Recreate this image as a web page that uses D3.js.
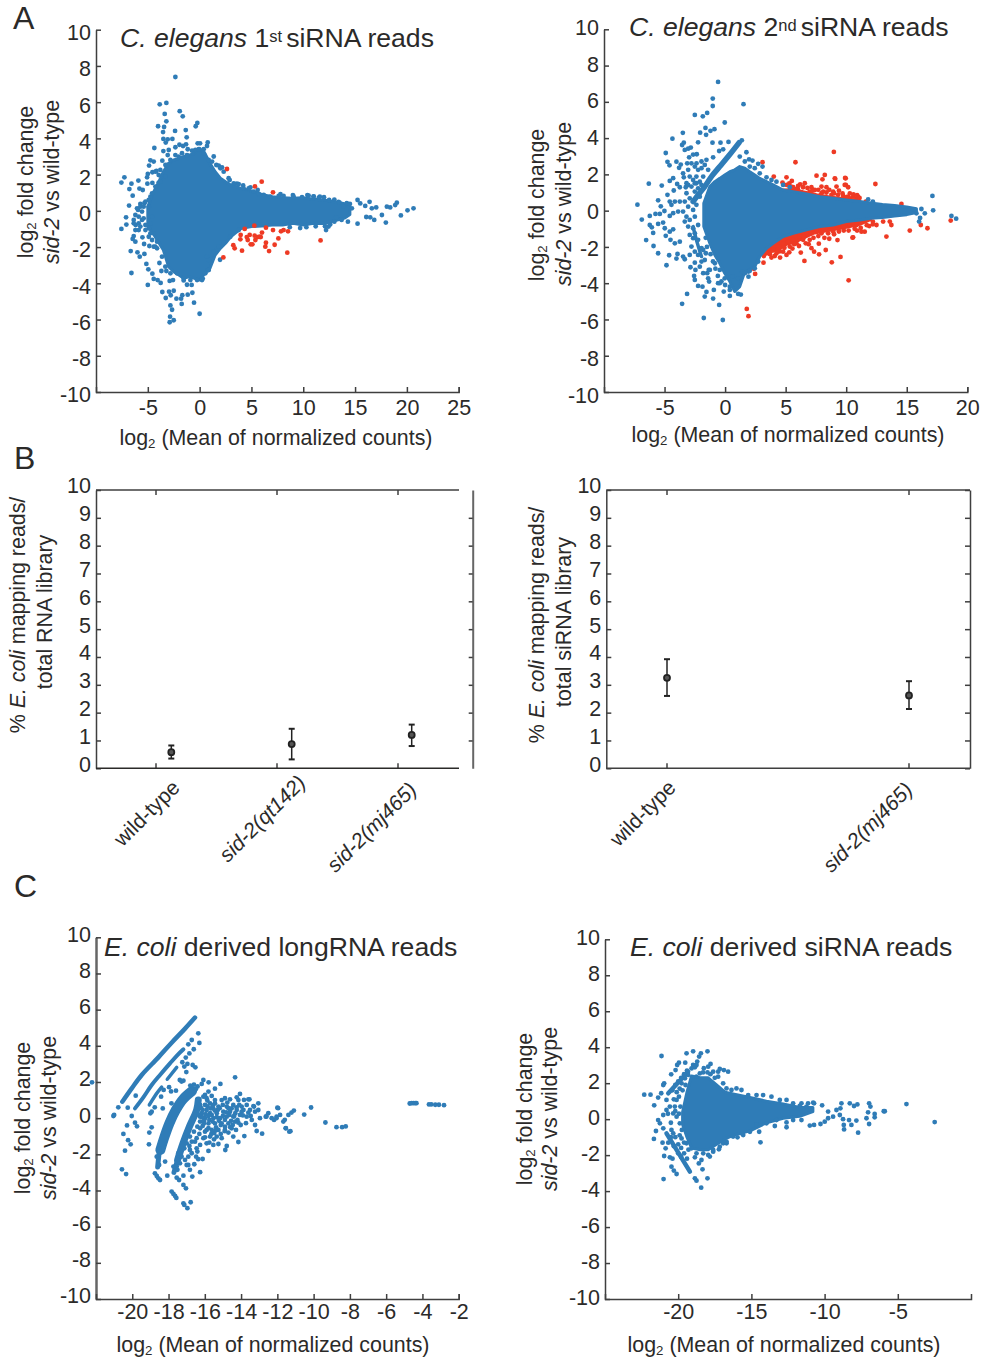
<!DOCTYPE html>
<html>
<meta charset="utf-8">
<style>
body{margin:0;background:#fff;}
svg{display:block;}
text{font-family:"Liberation Sans",Arial,sans-serif;fill:#2b2a29;}
.tick text{font-size:21.5px;}
.domain,.tick line{stroke:#3f3f3f;stroke-width:1.5px;}
</style>
<body>
<svg width="994" height="1360"></svg>
<script src="https://d3js.org/d3.v7.min.js"></script>
<script>

var BLUE = "#2f7cb7", RED = "#ee3a24";

var foldTicks = [-10,-8,-6,-4,-2,0,2,4,6,8,10];
var pctTicks = [0,1,2,3,4,5,6,7,8,9,10];

// the dense middle of each MA plot is solid colour, so only its outline can be read
var a1CoreX = [-5,-4.5,-4,-3.5,-3,-2.5,-2,-1.5,-1,-.5,0,.5,1,1.5,2,2.5,3,4,5,6,7,8,9,10,11,12,13,14,14.5];
var a1CoreUp = [.23,.97,1.52,2.16,2.62,2.81,2.9,3,3.08,3.18,3.45,3.18,2.62,2.16,1.8,1.61,1.43,1.24,1.1,.91,.78,.73,.69,.73,.64,.6,.5,.4,.2];
var a1CoreLow = [-.87,-1.24,-1.7,-2.16,-3.08,-3.36,-3.54,-3.73,-3.63,-3.73,-3.82,-3.45,-3.17,-2.44,-2.07,-1.79,-1.43,-.97,-.87,-.84,-.78,-.78,-.69,-.78,-.69,-.7,-.55,-.4,-.2];

var a1Blue = [[-2.34,7.39],[-3.85,5.88],[-3.21,5.96],[-3.37,5.35],[-1.92,5.5],[-1.63,5.22],[-.22,4.85],[-.38,4.67],[-4.01,4.67],[-3.21,4.94],[-3.43,4.63],[-3.53,4.35],[-2.37,4.41],[-1.34,4.46],[-1.25,4.06],[-3.5,3.97],[-3.08,3.95],[-2.63,3.97],[-3.27,3.77],[-4.37,3.47],[-2.34,3.51],[-1.95,3.65],[-1.31,3.67],[-1.6,3.58],[-2.98,3.36],[-3.5,3.3],[-1.15,3.4],[-3.08,3.08],[.78,3.78],[.71,3.58],[-.19,3.73],[.04,3.73],[-.57,3.27],[.39,3.4],[1.36,3],[1.84,2.5],[2.16,2.4],[-4.75,2.79],[-4.43,2.72],[-4.88,2.5],[-3.6,2.77],[-3.11,2.53],[-4.17,2.2],[-4.56,2.13],[-5,2.04],[-5.07,1.85],[-5.91,1.67],[-6.58,1.5],[-7.26,1.85],[-7.55,1.56],[-6.78,1.2],[-6.46,.84],[-5.81,1.23],[-5.49,1.15],[-5.04,1.5],[-4.56,1.54],[-3.95,1.56],[-6.81,.29],[-5.72,.38],[-5.33,.42],[-5.94,.05],[-7.1,-.36],[-7.07,-.76],[-7.55,-1],[-6.36,-.5],[-6.17,-.78],[-5.56,-.5],[-5.88,-1.06],[-6.36,-1.39],[-6.46,-1.55],[-6.2,-1.7],[-5.52,-1.46],[-4.91,-.96],[-6.65,-2.22],[-6,-2.29],[-5.78,-2.53],[-5.33,-2.38],[-5.36,-1.83],[-4.85,-1.94],[-5.14,-2.93],[-4.95,-3.23],[-6.58,-3.43],[-3.88,-2.88],[-4.56,-3.47],[-3.69,-3.32],[-3.21,-3.32],[-5,-4.09],[-4.43,-3.76],[-4.05,-3.82],[-3.76,-3.98],[-3.6,-4.48],[-3.27,-4.81],[-2.89,-3.87],[-2.57,-3.82],[-2.95,-4.46],[-2.5,-4.41],[-2.79,-4.66],[-2.24,-4.85],[-1.67,-4.66],[-1.79,-4.85],[-1.15,-4.63],[-.7,-4.52],[-1.54,-3.84],[-1.22,-4.08],[-.77,-4.09],[-.54,-5.07],[-1.73,-5.14],[-2.82,-5.22],[-2.66,-5.46],[-2.85,-5.84],[-2.5,-6.04],[-2.89,-6.15],[0,-5.68],[.3,-3.74],[.81,-3.27],[.87,-2.71],[1.68,-2.12],[1.97,-2.7],[20.64,.14],[20.06,.03],[19.42,-.25],[19.03,.45],[18.87,.32],[18.39,.19],[18.07,.23],[17.97,-.65],[17.59,-.23],[17.04,.19],[16.85,-.5],[16.46,-.36],[16.08,-.34],[16.4,.5],[15.98,.27],[16.62,.14],[15.24,.6],[15.5,.41],[15.24,-.71],[14.31,-.6],[14.69,.14],[14.2,.42],[14.5,.38],[13.9,.23],[13.4,.5],[13.18,-.36],[12.44,-.87],[12.2,-1.06],[2.9,1.7],[3.6,1.5],[4.2,1.4],[4.9,1.3],[5.6,1.15],[7.8,.92],[9,.87],[10.4,.87],[11,.8],[11.6,.78],[8.7,-.9],[9.7,-.95],[10.3,-.9],[11.2,-.85]];
// dots on the rim of the core
var a1Rim = [[-3.95,1.98],[-4.27,2.16],[-3.79,2.26],[-3.3,2.53],[-2.82,2.81],[-2.34,3.08],[-2.02,2.99],[-1.7,3.18],[-1.22,3.08],[-.73,3.32],[-.41,3.36],[-.09,3.4],[.39,3.18],[.87,2.81],[1.2,2.72],[1.61,2.53],[2,2.35],[2.32,2.16],[2.8,1.8],[3.29,1.52],[3.77,1.48],[4.25,1.24],[4.73,1.24],[5.22,1.06],[5.7,.93],[6.18,.88],[6.82,.78],[7.63,.82],[8.1,.82],[9.07,.78],[9.88,.75],[10.52,.84],[11,.78],[11.5,.73],[-4.43,-1.98],[-4.11,-2.07],[-3.63,-2.53],[-3.31,-3.08],[-2.82,-3.45],[-2.18,-3.45],[-1.54,-3.73],[-.89,-3.82],[-.25,-3.82],[.23,-3.82],[.55,-3.45],[.88,-3.27],[.71,-2.53],[1.36,-2.25],[1.84,-1.98],[2.32,-1.76],[2.96,-1.43],[3.77,-1.06],[-4.75,.78],[-4.91,.23],[-4.59,-.32],[-4.75,-.69],[-4.43,-1.24],[12,.75],[12.5,.6],[13,.62],[13.5,.45],[12.1,-.85],[12.6,-.75],[13,-.6],[13.7,-.5],[-6.04,.14],[-5.72,.23],[-5.56,-.04],[-6.2,-.23],[-5.88,-.32],[-6.36,-.69],[-5.88,-.69],[-5.4,-.41],[-5.23,-.78],[-5.72,-.87],[-6.2,-1.06],[-5.23,-1.06],[-4.75,-1.24],[-4.59,-1.61],[-4.91,-1.43],[-4.11,-1.7],[-4.27,-1.98],[-5.4,.23],[-5.23,.51],[-4.91,.6],[-4.59,.97],[-4.27,1.34],[-3.79,1.61],[-3.31,1.89]];
var a1Red = [[2.64,2.31],[5.34,1.35],[5.99,1.61],[7.08,1.02],[4.35,-1],[5.28,-.82],[3.96,-1.33],[3.93,-1.57],[3.25,-1.9],[3.38,-2.07],[2.29,-2.57],[4.09,-2.2],[4.64,-1.61],[4.83,-1.33],[5.31,-1.37],[5.38,-1.61],[5.79,-1.43],[6.02,-1.2],[6.4,-.93],[7.08,-1.06],[7.85,-1.13],[8.1,-1.06],[8.53,-1.13],[7.6,-1.52],[6.4,-1.76],[6.34,-1.98],[6.7,-2.22],[7.24,-1.87],[8.46,-2.31],[4.93,-1.85],[5.09,-1.85],[4.55,-1.45],[5.6,-1.45],[5.9,-1.45],[11.67,-1.63]];

var a2CoreX = [-1.76,-1.26,-.85,-.44,-.03,.39,.8,1.21,1.63,2.04,2.45,2.86,3.42,3.97,4.79,5.62,6.72,7.82,8.92,10,11.12,12,13,14,15,15.8];
var a2CoreUp = [.41,1.33,1.6,1.78,1.97,2.15,2.25,2.43,2.34,2.15,1.97,1.78,1.6,1.42,1.14,1.05,.92,.77,.68,.59,.5,.42,.34,.28,.2,.1];
var a2CoreLow = [-.88,-1.8,-2.44,-2.9,-3.45,-3.91,-4.46,-4.19,-3.36,-3.23,-3.09,-2.53,-2.07,-1.8,-1.43,-1.25,-1.06,-.88,-.79,-.6,-.51,-.42,-.38,-.3,-.22,-.1];
// red bands hugging the blue core
var a2RedUpX = [4.79,5.34,6.4,7.55,8.64,10.02,11.12];
var a2RedUp = [1.14,1.15,1.05,.88,.76,.64,.55];
var a2RedLowX = [2.86,3.14,3.83,4.52,5.07,5.89,7.27,8.64,10.02,11.12,12];
var a2RedLow = [-2.3,-2.4,-2.25,-2.1,-1.85,-1.7,-1.25,-1.08,-.92,-.75,-.5];

var a2Streaks = [
  [[1.16,3.75],[.25,2.98],[-.44,2.43],[-1.13,1.88],[-1.68,1.33],[-2.23,.87],[-2.64,.5]],
  [[-2.64,-.88],[-2.37,-1.61],[-1.95,-2.53]]
];
var a2Blue = [[-.58,7.1],[-1.02,6.18],[-1.02,5.77],[1.52,5.87],[-2.5,5.28],[-1.84,5.2],[-1.48,5.39],[-.03,4.86],[-1.62,4.56],[-2.06,4.3],[-1.21,4.4],[-.88,4.49],[-1.57,4.18],[-3.49,4.29],[-4.35,3.97],[-3.55,3.62],[-3.41,3.75],[-2.23,3.77],[-1.04,3.75],[-.38,3.75],[.28,3.79],[1.38,3.88],[-2.83,3.48],[-3.05,3.42],[-3.33,3.35],[-4.9,3.18],[-2.34,3.11],[-2.64,3.09],[-2.97,2.94],[-4.76,2.69],[-4.59,2.5],[-4.02,2.7],[-3.66,2.54],[-3.8,2.36],[-3.13,2.61],[-2.36,2.61],[-1.95,2.71],[-1.54,2.8],[-.99,2.94],[-.49,3.29],[-.16,3.38],[1.76,3.22],[1.98,2.83],[2.26,2.76],[2.73,2.58],[3.09,2.43],[-3.47,2.06],[-3.41,1.84],[-4.29,1.79],[-4.57,1.64],[-6.3,1.49],[-5.23,1.38],[-3.96,1.47],[-3.74,1.29],[-3.19,1.51],[-3.25,1.29],[-2.37,1.51],[-5.53,.57],[-4.76,.87],[-4.24,1.11],[-7.24,.33],[-5.31,.24],[-6.22,-.29],[-6.88,-.49],[-5.75,-.18],[-5.39,-.18],[-5.01,-.02],[-4.57,.5],[-4.43,.32],[-4.15,.5],[-3.74,.5],[-4.57,-.29],[-4.29,-.14],[-3.88,-.05],[-6.22,-.79],[-6.05,-.92],[-5.94,-1.23],[-6.52,-1.62],[-5.91,-1.95],[-5.53,-2.35],[-4.84,-3.01],[-4.98,-.97],[-5.53,-.73],[-5.12,-.66],[-4.57,-1.16],[-4.9,-1.39],[-4.29,-1.03],[-4.51,-1.61],[-4.15,-1.8],[-3.74,-1.71],[-4.62,-2.46],[-3.93,-2.39],[-4.02,-2.64],[-3.47,-2.53],[-3.33,-2.68],[-2.86,-3.12],[-2.5,-2.87],[-2.45,-3.27],[-2.56,-3.6],[-2.5,-3.82],[-2.23,-4.15],[-1.87,-4.19],[-1.32,-3.91],[-1.48,-3.45],[-1.35,-3.27],[-1.54,-4.48],[-1.68,-4.74],[-.99,-4.85],[-.49,-5.2],[-3.14,-4.59],[-3.55,-5.14],[-1.76,-5.92],[-.19,-6.03],[-.93,-4.37],[-.58,-4],[-.11,-4.46],[.39,-4.7],[1.08,-4.59],[1.3,-4.63],[.61,-3.64],[1.08,-3.73],[1.41,-3.38],[1.93,-3.64],[1.93,-3.36],[17.12,.81],[17.18,.02],[18.69,-.29],[19.08,-.44],[16.21,.09],[16.49,-.15],[16.02,-.6],[16.1,-.4],[15.8,-.15],[11.81,.62],[12.2,.5]];
// dots packed between the streak and the core, and on the core's rim
var a2Rim = [[-3.05,2.25],[-2.78,2.61],[-2.5,2.43],[-2.23,2.25],[-1.95,2.34],[-1.68,2.52],[-2.92,1.88],[-2.64,1.69],[-2.37,1.88],[-2.09,1.6],[-1.81,1.88],[-1.4,2.25],[-3.05,1.42],[-2.78,1.33],[-2.5,1.51],[-2.23,1.23],[-1.95,1.42],[-3.19,.96],[-2.92,.68],[-2.5,1.05],[-2.09,.77],[-3.33,.5],[-3.05,.22],[-2.64,.04],[-2.37,.32],[-3.47,-.05],[-3.19,-.33],[-2.92,-.51],[-2.5,-.33],[-3.33,-.6],[-3.05,-.88],[-2.64,-.97],[-2.23,-.79],[-2.92,-1.34],[-2.5,-1.25],[-2.23,-1.61],[-2.78,-1.98],[-2.5,-2.26],[-2.23,-2.44],[-1.95,-2.81],[-2.09,-3.09],[-1.68,-2.72],[-1.81,-3.45],[-1.4,-3.73],[-2.92,-2.44],[-2.64,-1.52],[-1.95,-2.07],[-1.59,-2.35],[1.21,2.98],[1.63,2.71],[2.04,2.43],[2.45,2.34],[2.86,2.06],[3.42,1.84],[3.83,1.69],[4.24,1.6],[4.79,1.42],[5.34,1.29],[-.85,-2.9],[-.44,-3.27],[-.03,-3.73],[.39,-4.19],[1.63,-3.45],[2.04,-3.32],[2.45,-3.18],[2.73,-2.81],[-1.81,-2.17],[-1.26,-3.27],[-.44,-4],[.39,-4.37],[-1.6,-1.5],[-1.5,-2],[-1.2,-2.4],[-1,-2.8],[-.8,-3.2],[-.6,-3.6],[-.3,-3.9],[0,-4.1]];
var a2Red = [[3.09,2.67],[5.81,2.67],[8.98,3.24],[4.02,1.88],[5.07,1.84],[4.74,1.55],[5.51,1.64],[5.45,1.33],[6.03,1.36],[6.58,1.51],[7.13,1.29],[7.55,1.93],[8.23,1.97],[8.04,1.73],[7.96,1.33],[8.37,1.29],[9.09,1.75],[9.91,1.8],[9.2,1.33],[9.97,1.42],[10.16,1.29],[8.92,1.05],[9.75,.81],[7.82,.81],[10.3,.68],[10.85,.68],[12.41,1.47],[11.62,.5],[14.56,.37],[10.98,.77],[10.16,.77],[9.88,1.42],[9.96,1.78],[9.06,1.78],[10.2,-3.84],[1.79,-5.42],[1.93,-5.82],[2.37,-3.21],[2.48,-3.49],[3.17,-2.87],[3.83,-2.59],[4.54,-2.59],[5.07,-2.44],[5.56,-2.09],[6.25,-2.31],[6.55,-2.77],[7.35,-2.26],[7.76,-2.41],[8.31,-2.17],[8.81,-2.85],[9.53,-2.55],[9.28,-1.62],[10.52,-1.49],[7.74,-1.82],[6.66,-1.8],[7.13,-2.07],[10.57,-1.47],[11.26,-1.16],[11.53,-1.16],[13.32,-1.43],[15.25,-1.1],[16.16,-.79],[16.71,-.97],[18.63,-.55],[13.73,-.79],[12.5,-.79],[13.05,-.6],[12.2,-.75],[11.9,-.85],[10.9,-1.1],[13.6,-.6],
  [3.42,-2.35],[3.97,-2.17],[4.38,-1.98],[4.79,-1.8],[5.2,-1.71],[5.62,-1.61],[6.17,-1.43],[6.72,-1.25],[7.13,-1.25],[7.54,-1.06],[8.09,-.97],[8.65,-.88],[9.2,-.79],[9.75,-.84],[10.3,-.79],[10.85,-.79],[3.55,-2.07],[4.24,-2.35],[4.79,-2.26],[5.34,-1.98],[5.89,-1.8],[6.44,-1.61],[6.99,-1.61],[7.96,-1.25],[8.51,-1.25],[8.92,-1.15],
  [5.07,1.42],[5.62,1.29],[6.03,1.14],[6.44,1.29],[6.99,1.05],[7.41,1.14],[7.96,.96],[8.37,1],[8.78,.87],[9.33,.87],[10.02,.74],[10.57,.77],
  [5.3,1.5],[5.9,1.2],[6.2,1.45],[6.8,1.25],[7.2,1.1],[7.7,1.15],[8.1,1.05],[8.6,1.15],[9,.95],[9.4,1.1],[9.7,.95],[10.3,.95],[10.6,.9],[10.9,.85],[11.1,.7],
  [3.2,-2.5],[3.7,-2.4],[4.1,-2.5],[4.5,-2.25],[4.9,-2.05],[5.3,-2.3],[5.7,-1.85],[6.1,-1.95],[6.5,-1.45],[6.9,-1.85],[7.3,-1.5],[7.7,-1.4],[8.2,-1.5],[8.6,-1.55],[9,-1.3],[9.4,-1.15],[9.8,-1.1],[10.2,-1.1],[10.7,-1],[11.2,-.95],[11.7,-.8],[12.2,-.6]];

var b1Names = ["wild-type","sid-2(qt142)","sid-2(mj465)"];
var b1Mean = [.58,.87,1.2];
var b1Low = [.35,.32,.8];
var b1High = [.82,1.42,1.57];
var b2Names = ["wild-type","sid-2(mj465)"];
var b2Mean = [3.25,2.62];
var b2Low = [2.6,2.13];
var b2High = [3.92,3.13];

// stripes and arcs of the E. coli long RNA plot
var c1Line1 = [[-20.55,.91],[-20.03,1.65],[-19.48,2.39],[-18.56,3.36],[-17.83,4.17],[-17.09,4.95],[-16.54,5.56]];
var c1Line2 = [[-19.85,.54],[-19.39,1.15],[-18.93,1.83],[-18.47,2.39],[-17.92,3.03],[-17.51,3.49],[-17.18,3.81]];
var c1Line3 = [[-19.06,.73],[-18.75,1.23],[-18.38,1.71]];
var c1Line4 = [[-18.07,2.15],[-17.55,2.81]];
var c1Arc1 = [[-18.45,-1.76],[-18.25,-1.11],[-17.95,-.28],[-17.6,.45],[-17.2,1.05],[-16.7,1.5]];
var c1Arc1Tail = [[-18.6,-2.7],[-18.5,-1.7]];
var c1Arc2 = [[-17.5,-2.31],[-17.2,-1.39],[-16.85,-.47],[-16.45,.45],[-16.36,1]];
var c1Arc2Tail = [[-17.7,-3],[-17.5,-2.3]];
var c1Blue = [[-22.22,1.98],[-21.04,.12],[-21,.18],[-20.77,.6],[-20.25,.58],[-19.81,1.24],[-20.03,.12],[-20.29,-.4],[-20.49,-.87],[-20.23,-1.22],[-20.09,-1.45],[-20.4,-1.8],[-20.57,-2.83],[-20.34,-3.09],[-19.85,-.25],[-19.74,-.45],[-18.93,-.51],[-19.06,-.8],[-19.08,-1.45],[-19,.27],[-18.93,.36],[-18.32,.54],[-18.76,.6],[-18.41,1.19],[-17.97,1.71],[-18.27,1.56],[-17.86,1.48],[-17.59,1.52],[-17.84,.82],[-17.38,2.11],[-17.18,2.07],[-17.28,2.02],[-14.33,2.26],[-16.08,2.11],[-15.79,1.98],[-15.14,1.89],[-15.44,1.63],[-15.8,1.47],[-14.06,1.34],[-16.17,1.89],[-16.67,2.94],[-16.52,2.81],[-17.02,2.55],[-17.13,2.85],[-16.96,3],[-17.24,3.09],[-17.05,3.35],[-16.85,3.58],[-16.91,4.08],[-16.72,4.32],[-16.36,4.69],[-16.3,4.16],[-16.61,3.81],[-16.6,1.85],[-16.4,1.75],[-16.8,1.8],[-16.5,1.6],
  [-18.75,-3.05],[-18.65,-3.2],[-18.56,-3.33],[-18.47,-3.42],[-18.07,-3.18],[-17.55,-3.29],[-17.42,-3.42],[-17.18,-3.18],[-17.18,-3.69],[-17.04,-3.88],[-16.69,-3.23],[-16.26,-2.99],[-16.82,-2.86],[-17.83,-4.06],[-17.73,-4.19],[-17.64,-4.3],[-17.57,-4.41],[-17.18,-4.71],[-17.13,-4.8],[-16.78,-4.65],[-16.96,-4.98],[-16.58,-2.55],[-16.36,-2.27],[-15.8,-1.81],[-16.12,-2.26],[-14.87,-1.76],[-14.79,-1.54],[-14.15,-1.32],[-13.82,-.99],[-13.14,-.71],[-12.84,-.86],[-18.65,-2.13],[-18.52,-2.59],[-18.19,-2.4],[-16.91,-2.13],[-17,-2.59],[-16.41,-1.85],[-17.55,-2.68],
  [-16.08,1.19],[-15.9,1.1],[-15.62,1.23],[-15.99,.73],[-15.71,.82],[-15.44,1],[-15.07,1],[-14.89,1.1],[-14.61,1.04],[-14.24,1.15],[-14.15,1],[-13.6,1.04],[-13.32,.67],[-13.05,.82],[-13.69,.73],[-13.97,.64],[-14.43,.73],[-14.79,.64],[-15.25,.64],[-15.53,.54],[-15.9,.45],[-16.17,.27],[-15.71,.27],[-15.34,.27],[-14.98,.36],[-14.61,.36],[-14.24,.45],[-13.87,.45],[-13.51,.45],[-13.23,.36],[-14.06,.18],[-14.43,.08],[-14.79,.08],[-15.16,0],[-15.53,0],[-15.99,0],[-16.26,-.19],[-15.8,-.29],[-15.44,-.29],[-15.07,-.29],[-14.7,-.29],[-14.33,-.19],[-13.69,.08],[-13.41,-.1],[-16.26,-.56],[-15.99,-.75],[-15.62,-.65],[-15.25,-.65],[-14.89,-.65],[-14.52,-.56],[-16.45,-1.11],[-16.08,-1.11],[-15.71,-1.02],[-15.34,-1.02],[-14.43,-1.02],[-16.72,-1.3],[-16.26,-1.48],[-15.9,-1.39],[-15.53,-1.48],[-15.25,-1.43],[-16.82,-1.76],[-16.45,-1.67],
  [-12.64,.08],[-12.5,.27],[-12.31,0],[-12.18,-.1],[-12.04,.08],[-11.85,.18],[-12,.58],[-12.96,0],[-11.67,-.19],[-11.54,-.56],[-11.34,-.75],[-11.39,.18],[-11.22,.31],[-11.09,.42],[-11.53,-.55],[-11.28,-.72],[-10.52,.2],[-10.14,.59],[-9.35,-.24],[-8.74,-.5],[-8.43,-.5],[-8.23,-.46],[-4.7,.81],[-4.6,.83],[-4.5,.83],[-4.4,.83],[-4.33,.83],[-3.64,.76],[-3.51,.76],[-3.29,.74],[-3.09,.74],[-2.81,.72],[-11.59,-.09],[-12.05,0],[-12.6,.09],[-11.96,.55]];
var c1Cloud = [[-16.26,.73],[-16.12,.45],[-15.99,1.28],[-15.86,.97],[-15.68,.54],[-15.44,.82],[-15.29,.45],[-15.01,.73],[-14.76,.86],[-14.52,.54],[-14.32,.27],[-14.1,.73],[-13.84,1.01],[-13.54,1.04],[-13.29,.64],[-16.26,.08],[-16.04,-.14],[-15.8,.12],[-15.57,-.19],[-15.34,.05],[-15.12,-.38],[-14.89,-.1],[-14.65,.18],[-14.46,-.38],[-14.2,-.1],[-13.97,.36],[-13.73,-.28],[-13.47,.12],[-13.23,-.38],[-13.05,.45],[-16.41,-.47],[-16.12,-.43],[-15.9,-.65],[-15.64,-.87],[-15.38,-.51],[-15.12,-.87],[-14.89,-.47],[-14.7,-.8],[-14.28,-.65],[-14.02,-.38],[-16.6,-.75],[-16.82,-1.02],[-16.54,-1.3],[-16.3,-.87],[-15.99,-1.06],[-15.75,-1.35],[-15.49,-1.17],[-15.07,-1.11],[-17,-1.39],[-17.13,-1.67],[-16.85,-1.54],[-16.72,-1.94],[-16.48,-2.13],[-17.28,-2.13],[-17.46,-1.94],[-17.37,-2.5],[-17.73,-2.68],[-17.51,-2.86],[-17.09,-2.31],[-16.91,-2.59],
  [-16.15,.05],[-15.95,.22],[-15.75,-.1],[-15.62,.18],[-15.45,.42],[-15.22,-.15],[-15,.12],[-14.82,.32],[-14.55,-.15],[-14.38,.12],[-14.9,-.72],[-15.48,-.82],[-15.8,-.55],[-16.05,-.3],[-16.35,.2],[-16.2,.55],[-15.85,.65],[-15.55,.72],[-15.18,.55],[-14.7,.55],[-14.25,.6],[-13.9,.15],[-13.6,.3],[-14.15,-.25],[-14.6,-.5],[-15.4,-.68]];

var c2CoreX = [-19.7,-19.4,-19.09,-18.5,-17.95,-17.38,-16.8,-16.25,-15.1,-13.97,-12.83,-11.7,-10.8];
var c2CoreUp = [.4,1.5,2.4,2.3,2.3,1.9,1.5,1.4,1.2,1,.85,.65,.65];
var c2CoreLow = [-.3,-1,-1.6,-1.7,-1.7,-1.4,-1.1,-.9,-.65,-.2,.05,.16,.42];
var c2Streaks = [
  [[-20.68,1.44],[-19.32,2.64]],
  [[-20.8,-.79],[-19.2,-2.92]]
];
var c2Blue = [[-21.14,3.51],[-22.32,1.36],[-21.89,1.36],[-21.64,.77],[-21.37,1.2],[-21.16,1.44],[-21.02,1.9],[-20.96,1.99],[-20.48,2.49],[-20.18,2.73],[-20.07,3.01],[-19.95,3.14],[-19.52,3.14],[-19.43,3.66],[-18.98,3.77],[-18.45,3.66],[-18,3.77],[-18.57,3.48],[-17.79,3.07],[-17.27,2.64],[-17.16,2.79],[-16.88,2.73],[-16.59,2.64],[-18.98,3.01],[-18.75,3.01],[-18.86,2.88],[-19.09,2.82],[-18.7,3.2],[-20.86,-1.62],[-20.96,-2.05],[-20.57,-2.12],[-20.39,-2.2],[-20.46,-2.64],[-20.3,-2.86],[-20.11,-3.05],[-21,-3.33],[-21.66,-1.1],[-21.52,-.66],[-21.07,-1.31],[-20.68,-1.31],[-21.37,-.05],[-21.25,-.23],[-21.02,-.51],[-21.02,.23],[-20.8,.51],[-20.8,1.07],[-20.57,.7],[-20.46,-.6],[-20.34,-.79],[-18.86,-3.29],[-18.75,-3.42],[-18.43,-3.81],[-18,-3.29],[-18.34,-2.79],[-18.59,-2.46],[-18.86,-2.12],[-17.84,-2.08],[-18.29,-1.9],[-17.61,-1.81],[-17.22,-1.68],[-16.93,-1.34],[-16.7,-1.34],[-14.47,-.7],[-14.38,-1.29],[-15.95,-1.01],[-15.56,-.88],[-12.6,-.45],[-12.6,-.18],[-13.4,-.38],[-12.15,-.05],[-11.58,-.05],[-11.01,-.36],[-10.72,-.32],[-10.28,-.27],[-9.99,-.14],[-9.76,.42],[-10.17,.77],[-10.72,.88],[-11.58,.88],[-11.13,.88],[-9.19,.51],[-8.92,.6],[-8.85,.88],[-8.28,.88],[-7.99,.73],[-7.76,.82],[-6.96,.88],[-6.87,.7],[-7.03,.38],[-7.14,.05],[-6.96,-.27],[-6.58,.29],[-6.58,.1],[-5.89,.44],[-5.96,.44],[-4.41,.84],[-2.48,-.16],[-7.71,-.75],[-8.69,-.32],[-8.67,-.57],[-8.74,0],[-8.96,.23],[-9.42,.14],[-9.76,.05],[-8.33,-.05],[-8.17,-.32],[-7.83,-.08]];
var c2Rim = [[-19.77,1.99],[-19.54,2.27],[-19.32,2.46],[-18.75,2.36],[-18.52,2.55],[-18.25,2.83],[-17.95,2.92],[-17.61,2.64],[-17.27,2.36],[-16.93,1.99],[-16.7,1.71],[-16.36,1.62],[-16.02,1.71],[-15.68,1.62],[-15.22,1.34],[-14.65,1.34],[-14.2,1.34],[-13.63,1.25],[-13.06,1.07],[-12.6,1.07],[-12.15,.88],[-11.7,.73],[-11.24,.7],[-10.78,.92],[-19.77,-1.07],[-19.43,-1.34],[-19.09,-1.62],[-18.75,-1.9],[-18.41,-2.27],[-17.95,-1.99],[-17.61,-1.71],[-17.16,-1.53],[-16.7,-1.25],[-16.25,-.97],[-15.68,-.79],[-15.1,-.7],[-14.65,-.32],[-13.97,-.23],[-13.29,-.05],[-20.23,.7],[-20.11,.14],[-19.89,-.23],[-20.11,1.07],[-20.34,.32],[-19.95,1.25],[-19.85,.7],[-19.95,.3],[-19.75,-.6],
  [-20.4,1.6],[-20.2,1.9],[-20,2.1],[-19.8,2.3],[-19.6,2.5],[-19.4,2.7],[-20.3,1.1],[-20.1,1.5],[-19.9,1.7],[-19.7,1.6],[-19.5,1.9],[-20.2,.45],[-20.2,-1],[-20,-1.4],[-19.8,-1.6],[-19.6,-1.9],[-19.4,-2.2],[-19.3,-1.7],[-19.6,-1.3],[-19.9,-.9],[-20.5,-.2],[-20.7,.3],[-20.5,-1],[-20.3,-1.5],[-20,-1.9],[-19.8,-2.1],[-18.3,2.6],[-17.8,2.5],[-17.5,2.3],[-18,2.6]];

var svg = d3.select("svg");

function foldPanel(left, right, top, bottom, xDomain, xTicks, labelShift, xPad) {
  var x = d3.scaleLinear().domain(xDomain).range([left, right]);
  var y = d3.scaleLinear().domain([-10, 10]).range([bottom, top]);
  var yAxis = svg.append("g").attr("transform", "translate(" + left + ",0)")
    .call(d3.axisLeft(y).tickValues(foldTicks).tickSize(-5).tickSizeOuter(0).tickPadding(5).tickFormat(String));
  yAxis.selectAll("text").attr("y", labelShift);
  svg.append("g").attr("transform", "translate(0," + bottom + ")")
    .call(d3.axisBottom(x).tickValues(xTicks).tickSize(-5).tickSizeOuter(-5).tickPadding(xPad).tickFormat(String));
  return {x: x, y: y, yAxis: yAxis};
}

function dots(p, data, color) {
  svg.append("g").selectAll("circle").data(data).enter().append("circle")
    .attr("cx", function(d) { return p.x(d[0]); })
    .attr("cy", function(d) { return p.y(d[1]); })
    .attr("r", 2.4)
    .attr("fill", color);
}

function core(p, xs, up, low, color) {
  var area = d3.area()
    .x(function(d) { return p.x(d); })
    .y0(function(d, i) { return p.y(low[i]); })
    .y1(function(d, i) { return p.y(up[i]); });
  svg.append("path").attr("d", area(xs))
    .attr("fill", color).attr("stroke", color)
    .attr("stroke-width", 3).attr("stroke-linejoin", "round");
}

function streak(p, data, width) {
  var line = d3.line()
    .curve(d3.curveCatmullRom)
    .x(function(d) { return p.x(d[0]); })
    .y(function(d) { return p.y(d[1]); });
  svg.append("path").attr("d", line(data))
    .attr("fill", "none").attr("stroke", BLUE)
    .attr("stroke-width", width).attr("stroke-linecap", "round").attr("stroke-linejoin", "round");
}

function errorPanel(names, tickAt, xAt, mean, low, high) {
  var y = d3.scaleLinear().domain([0, 10]).range([768.3, 490]);
  var x = d3.scaleOrdinal().domain(names).range(tickAt);
  var px = d3.scaleOrdinal().domain(names).range(xAt);
  var g = svg.append("g");
  names.forEach(function(n, i) {
    g.append("line").attr("x1", px(n)).attr("x2", px(n)).attr("y1", y(low[i])).attr("y2", y(high[i]))
      .attr("stroke", "#222").attr("stroke-width", 1.5);
    [low[i], high[i]].forEach(function(v) {
      g.append("line").attr("x1", px(n) - 3).attr("x2", px(n) + 3).attr("y1", y(v)).attr("y2", y(v))
        .attr("stroke", "#222").attr("stroke-width", 2);
    });
    g.append("circle").attr("cx", px(n)).attr("cy", y(mean[i])).attr("r", 3)
      .attr("fill", "#555").attr("stroke", "#222").attr("stroke-width", 1.8);
    // top and bottom ticks
    [768.3, 490].forEach(function(yy, k) {
      g.append("line").attr("x1", x(n)).attr("x2", x(n)).attr("y1", yy).attr("y2", k ? yy + 5 : yy - 5)
        .attr("stroke", "#3f3f3f").attr("stroke-width", 1.5);
    });
  });
  return y;
}

function rich(sel, parts) {
  parts.forEach(function(p) {
    var t = sel.append("tspan").text(p.t);
    if (p.i) t.attr("font-style", "italic");
    if (p.dx) t.attr("dx", p.dx);
    if (p.s) t.attr("baseline-shift", p.s > 0 ? "34%" : "-26%").attr("font-size", "62%");
  });
}

function title(x, y, parts) {
  rich(svg.append("text").attr("x", x).attr("y", y).attr("font-size", 26.6), parts);
}

function centered(x, y, parts) {
  rich(svg.append("text").attr("x", x).attr("y", y).attr("font-size", 21.4).attr("text-anchor", "middle"), parts);
}

function vertical(x, y, parts) {
  rich(svg.append("text").attr("transform", "translate(" + x + "," + y + ") rotate(-90)")
    .attr("font-size", 21.4).attr("text-anchor", "middle"), parts);
}

var logCounts = [{t: "log"}, {t: "2", s: -1}, {t: " (Mean of normalized counts)"}];
var logFold = [{t: "log"}, {t: "2", s: -1}, {t: " fold change"}];
var sidVs = [{t: "sid", i: 1}, {t: "-2", i: 1}, {t: " vs wild-type"}];

// A left
var a1 = foldPanel(96, 458.7, 29.7, 392, [-10, 25], [-5,0,5,10,15,20,25], 3, 8);
core(a1, a1CoreX, a1CoreUp, a1CoreLow, BLUE);
dots(a1, a1Blue, BLUE);
dots(a1, a1Rim, BLUE);
dots(a1, a1Red, RED);
title(120, 47, [{t: "C. elegans", i: 1}, {t: " 1"}, {t: "st", s: 1}, {t: "siRNA reads", dx: 4}]);
centered(276, 445, logCounts);
vertical(33, 182, logFold);
vertical(59, 182, sidVs);

// A right, its labels drift from the ticks towards the bottom of the axis
var a2 = foldPanel(604, 967.3, 29.3, 392, [-10, 20], [-5,0,5,10,15,20], function(d) { return .75 - .275 * d; }, 8);
core(a2, a2RedUpX, a2RedUp, a2RedUp.map(function() { return 0; }), RED);
core(a2, a2RedLowX, a2RedLow.map(function() { return 0; }), a2RedLow, RED);
dots(a2, a2Red, RED);
core(a2, a2CoreX, a2CoreUp, a2CoreLow, BLUE);
streak(a2, a2Streaks[0], 5.5);
streak(a2, a2Streaks[1], 3.5);
dots(a2, a2Blue, BLUE);
dots(a2, a2Rim, BLUE);
title(629, 36, [{t: "C. elegans", i: 1}, {t: " 2"}, {t: "nd", s: 1}, {t: "siRNA reads", dx: 4}]);
centered(788, 442, logCounts);
vertical(544, 205, logFold);
vertical(571, 204, sidVs);

// B left
var b1y = errorPanel(b1Names, [156, 277, 398], [171.3, 291.7, 411.7], b1Mean, b1Low, b1High);
svg.append("g").attr("transform", "translate(96,0)")
  .call(d3.axisLeft(b1y).tickValues(pctTicks).tickSize(-5).tickSizeOuter(0).tickPadding(5))
  .selectAll("text").attr("y", -4);
svg.append("line").attr("x1", 96).attr("x2", 459).attr("y1", 490).attr("y2", 490).attr("stroke", "#3f3f3f").attr("stroke-width", 1.5);
svg.append("line").attr("x1", 96).attr("x2", 459).attr("y1", 768.3).attr("y2", 768.3).attr("stroke", "#2b2a29").attr("stroke-width", 1.5);
svg.append("g").attr("transform", "translate(472.7,0)")
  .call(d3.axisRight(b1y).tickValues(pctTicks.slice(1, -1)).tickSize(-4).tickSizeOuter(0).tickFormat(""))
  .select(".domain").style("stroke", "#666").style("stroke-width", "2px");
vertical(25, 615, [{t: "% "}, {t: "E. coli", i: 1}, {t: " mapping reads/"}]);
vertical(52, 612, [{t: "total RNA library"}]);

// B right
var b2y = errorPanel(b2Names, [667, 909], [667, 909], b2Mean, b2Low, b2High);
svg.append("g").attr("transform", "translate(606.3,0)")
  .call(d3.axisLeft(b2y).tickValues(pctTicks).tickSize(-5).tickSizeOuter(0).tickPadding(5))
  .selectAll("text").attr("y", -4);
svg.append("g").attr("transform", "translate(970,0)")
  .call(d3.axisRight(b2y).tickValues(pctTicks).tickSize(-5).tickSizeOuter(0).tickFormat(""));
svg.append("line").attr("x1", 606.3).attr("x2", 970).attr("y1", 490).attr("y2", 490).attr("stroke", "#3f3f3f").attr("stroke-width", 1.5);
svg.append("line").attr("x1", 606.3).attr("x2", 970).attr("y1", 768.3).attr("y2", 768.3).attr("stroke", "#3f3f3f").attr("stroke-width", 1.5);
vertical(544, 625, [{t: "% "}, {t: "E. coli", i: 1}, {t: " mapping reads/"}]);
vertical(571, 622, [{t: "total siRNA library"}]);

// rotated strain labels
function strain(name, x, y) {
  var t = svg.append("text").attr("transform", "translate(" + x + "," + y + ") rotate(-45)")
    .attr("text-anchor", "end").attr("font-size", 21);
  if (name == "wild-type") t.text(name);
  else t.attr("font-style", "italic").text(name);
}
strain(b1Names[0], 181, 789);
strain(b1Names[1], 307, 784);
strain(b1Names[2], 418, 791);
strain(b2Names[0], 677, 789);
strain(b2Names[1], 914, 791);

// C left
var c1 = foldPanel(96, 458.7, 937.3, 1299, [-22, -2], [-20,-18,-16,-14,-12,-10,-8,-6,-4,-2], -3, 5);
c1.yAxis.select(".domain").style("stroke", "#666").style("stroke-width", "2.5px");
streak(c1, c1Line1, 4.5);
streak(c1, c1Line2, 4);
streak(c1, c1Line3, 3.5);
streak(c1, c1Line4, 3.5);
streak(c1, c1Arc1, 10);
streak(c1, c1Arc1Tail, 5);
streak(c1, c1Arc2, 7);
streak(c1, c1Arc2Tail, 5);
dots(c1, c1Blue, BLUE);
dots(c1, c1Cloud, BLUE);
title(104, 956, [{t: "E. coli", i: 1}, {t: " derived longRNA reads"}]);
centered(273, 1352, logCounts);
vertical(30, 1118, logFold);
vertical(56, 1118, sidVs);

// C right
var c2 = foldPanel(605, 971, 939.3, 1299, [-25, 0], [-20,-15,-10,-5], -1.5, 5);
core(c2, c2CoreX, c2CoreUp, c2CoreLow, BLUE);
c2Streaks.forEach(function(s) { streak(c2, s, 4.5); });
dots(c2, c2Blue, BLUE);
dots(c2, c2Rim, BLUE);
title(630, 956, [{t: "E. coli", i: 1}, {t: " derived siRNA reads"}]);
centered(784, 1352, logCounts);
vertical(532, 1109, logFold);
vertical(557, 1109, sidVs);

// panel letters
[["A", 13, 29], ["B", 14, 469], ["C", 14, 897]].forEach(function(l) {
  svg.append("text").attr("x", l[1]).attr("y", l[2]).attr("font-size", 32).text(l[0]);
});

</script>
</body>
</html>
